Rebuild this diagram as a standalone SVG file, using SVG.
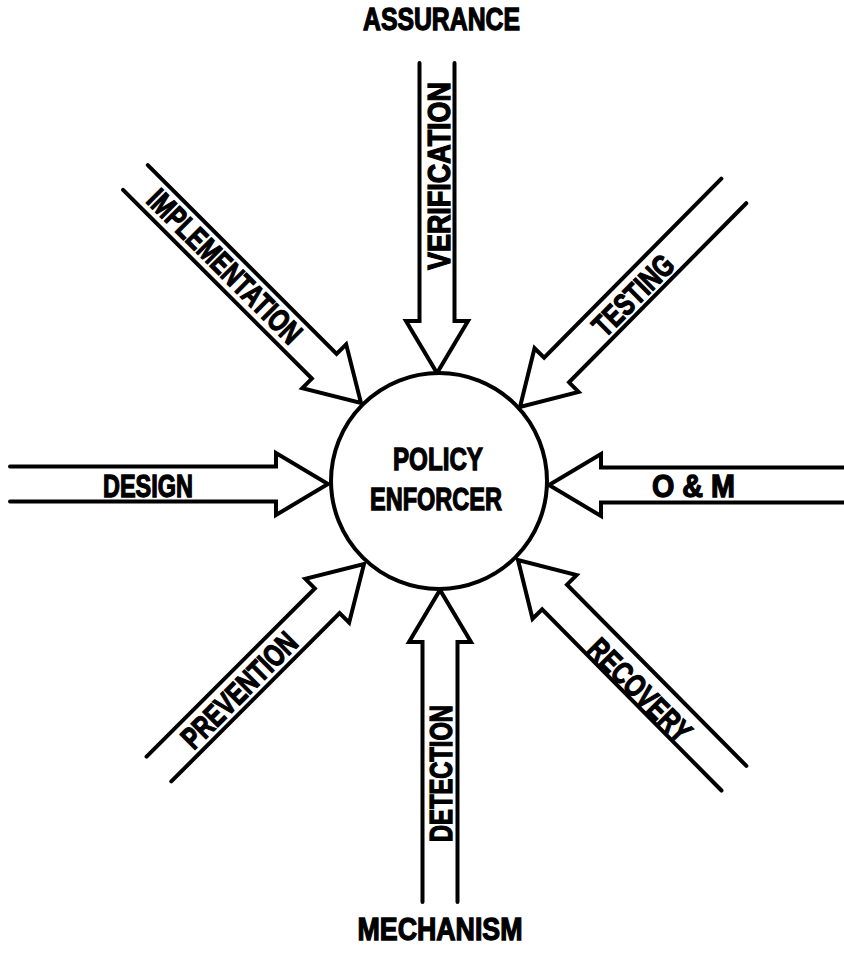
<svg xmlns="http://www.w3.org/2000/svg" width="844" height="961" viewBox="0 0 844 961">
<style>
.arr{fill:none;stroke:#000;stroke-width:4;stroke-linejoin:miter;stroke-miterlimit:6;stroke-linecap:round}
.lbl{font-family:"Liberation Sans",Arial,sans-serif;font-weight:bold;font-size:31px;fill:#000;stroke:#000;stroke-width:1.3;text-anchor:middle}
</style>
<rect width="844" height="961" fill="#fff"/>
<g id="connectors">
<path id="verification" class="arr" transform="translate(437,373) rotate(90)" d="M-310,-17.5 L-52,-17.5 L-52,-31 L0,0 L-52,31 L-52,17.5 L-310,17.5"/>
<path id="detection" class="arr" transform="translate(440,590) rotate(-90)" d="M-312,-17.5 L-52,-17.5 L-52,-31 L0,0 L-52,31 L-52,17.5 L-312,17.5"/>
<path id="design" class="arr" transform="translate(328,484) rotate(0)" d="M-318,-17.5 L-52,-17.5 L-52,-31 L0,0 L-52,31 L-52,17.5 L-318,17.5"/>
<path id="om" class="arr" transform="translate(549,485) rotate(180)" d="M-310,-17.5 L-52,-17.5 L-52,-31 L0,0 L-52,31 L-52,17.5 L-310,17.5"/>
<path id="implementation" class="arr" transform="translate(361,403) rotate(45)" d="M-319,-17.5 L-52,-17.5 L-52,-31 L0,0 L-52,31 L-52,17.5 L-319,17.5"/>
<path id="testing" class="arr" transform="translate(520,407) rotate(134.7)" d="M-304,-17.5 L-52,-17.5 L-52,-31 L0,0 L-52,31 L-52,17.5 L-304,17.5"/>
<path id="prevention" class="arr" transform="translate(364,564) rotate(-45)" d="M-290,-17.5 L-52,-17.5 L-52,-31 L0,0 L-52,31 L-52,17.5 L-290,17.5"/>
<path id="recovery" class="arr" transform="translate(518,560) rotate(-134.7)" d="M-307,-17.5 L-52,-17.5 L-52,-31 L0,0 L-52,31 L-52,17.5 L-307,17.5"/>
</g>
<g id="policy-enforcer">
<circle cx="439" cy="481" r="108" fill="#fff" stroke="#000" stroke-width="4"/>
<text class="lbl" x="438" y="470" textLength="90" lengthAdjust="spacingAndGlyphs">POLICY</text>
<text class="lbl" x="436" y="510" textLength="132" lengthAdjust="spacingAndGlyphs">ENFORCER</text>
</g>
<g id="labels">
<text class="lbl" x="441.5" y="30" textLength="157" lengthAdjust="spacingAndGlyphs">ASSURANCE</text>
<text class="lbl" x="440" y="940" textLength="165" lengthAdjust="spacingAndGlyphs">MECHANISM</text>
<text class="lbl" transform="translate(438.5,176) rotate(-90)" y="11" textLength="188" lengthAdjust="spacingAndGlyphs">VERIFICATION</text>
<text class="lbl" transform="translate(441,773.5) rotate(-90)" y="11" textLength="137" lengthAdjust="spacingAndGlyphs">DETECTION</text>
<text class="lbl" x="148" y="497" textLength="90" lengthAdjust="spacingAndGlyphs">DESIGN</text>
<text class="lbl" x="693.5" y="497" textLength="83" lengthAdjust="spacingAndGlyphs">O &amp; M</text>
<text class="lbl" transform="translate(225,266) rotate(45)" y="11" textLength="204" lengthAdjust="spacingAndGlyphs">IMPLEMENTATION</text>
<text class="lbl" transform="translate(633,295) rotate(-45)" y="11" textLength="101" lengthAdjust="spacingAndGlyphs">TESTING</text>
<text class="lbl" transform="translate(239,690) rotate(-45)" y="11" textLength="150" lengthAdjust="spacingAndGlyphs">PREVENTION</text>
<text class="lbl" transform="translate(640,690) rotate(45)" y="11" textLength="132" lengthAdjust="spacingAndGlyphs">RECOVERY</text>
</g>
</svg>
